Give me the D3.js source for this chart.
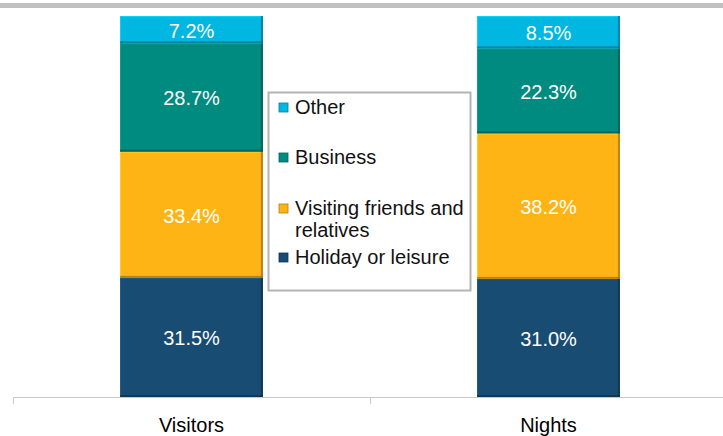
<!DOCTYPE html>
<html>
<head>
<meta charset="utf-8">
<script src="https://cdn.jsdelivr.net/npm/d3@7"></script>
<style>
  body { margin: 0; background: #fff; }
  svg { display: block; font-family: "Liberation Sans", Arial, sans-serif; }
</style>
</head>
<body>
<svg width="723" height="436"></svg>
<script>
var categories = ["Visitors", "Nights"];
var seriesNames = ["Holiday or leisure", "Visiting friends and relatives", "Business", "Other"];
var holiday = [31.5, 31.0];
var visiting = [33.4, 38.2];
var business = [28.7, 22.3];
var other = [7.2, 8.5];

var colors = {
  "Holiday or leisure": "#184c72",
  "Visiting friends and relatives": "#fdb414",
  "Business": "#008b80",
  "Other": "#00b7e2"
};

// build rows for the stack
var rows = categories.map(function(c, i) {
  return {
    cat: c,
    "Holiday or leisure": holiday[i],
    "Visiting friends and relatives": visiting[i],
    "Business": business[i],
    "Other": other[i]
  };
});

var svg = d3.select("svg");

// grey rule at the very top
svg.append("rect")
  .attr("x", 0).attr("y", 3)
  .attr("width", 723).attr("height", 5)
  .attr("fill", "#c0c0c0");

var x = d3.scaleBand()
  .domain(categories)
  .range([13, 727])
  .paddingInner(0.6)
  .paddingOuter(0.3);

var y = d3.scaleLinear().domain([0, 1]).range([397, 16]);

var stack = d3.stack().keys(seriesNames).offset(d3.stackOffsetExpand);
var series = stack(rows);

var groups = svg.append("g").selectAll("g")
  .data(series)
  .join("g");

groups.each(function(s) {
  var g = d3.select(this);
  var base = colors[s.key];
  var dark = d3.color(base).darker(1.2);
  var light = d3.color(base).brighter(0.6);
  s.forEach(function(d) {
    var x0 = x(d.data.cat), w = x.bandwidth();
    var y0 = y(d[1]), y1 = y(d[0]);
    g.append("rect")
      .attr("x", x0).attr("y", y0)
      .attr("width", w).attr("height", y1 - y0)
      .attr("fill", base);
    // bevel edges
    g.append("rect")
      .attr("x", x0).attr("y", y0)
      .attr("width", w).attr("height", 1)
      .attr("fill", light).attr("opacity", 0.7);
    g.append("rect")
      .attr("x", x0).attr("y", y0)
      .attr("width", 1).attr("height", y1 - y0)
      .attr("fill", light).attr("opacity", 0.5);
    g.append("rect")
      .attr("x", x0 + w - 2).attr("y", y0)
      .attr("width", 2).attr("height", y1 - y0)
      .attr("fill", dark).attr("opacity", 0.8);
    g.append("rect")
      .attr("x", x0).attr("y", y1 - 2)
      .attr("width", w).attr("height", 2)
      .attr("fill", dark).attr("opacity", 0.8);
    g.append("text")
      .attr("x", x0 + w / 2)
      .attr("y", (y0 + y1) / 2 + 1)
      .attr("text-anchor", "middle")
      .attr("dominant-baseline", "central")
      .attr("fill", "#fff")
      .attr("font-size", 20)
      .text(d.data[s.key].toFixed(1) + "%");
  });
});

// category axis
var axis = svg.append("g");
axis.append("line")
  .attr("x1", 13).attr("x2", 727)
  .attr("y1", 397.5).attr("y2", 397.5)
  .attr("stroke", "#c8c8c8");
var bounds = [13, 13 + x.step(), 13 + 2 * x.step()];
axis.selectAll("line.tick")
  .data(bounds)
  .join("line")
  .attr("class", "tick")
  .attr("x1", function(d) { return Math.round(d) + 0.5; })
  .attr("x2", function(d) { return Math.round(d) + 0.5; })
  .attr("y1", 397).attr("y2", 404)
  .attr("stroke", "#c8c8c8");
axis.selectAll("text")
  .data(categories)
  .join("text")
  .attr("x", function(d) { return x(d) + x.bandwidth() / 2; })
  .attr("y", 432)
  .attr("text-anchor", "middle")
  .attr("font-size", 20)
  .attr("fill", "#000")
  .text(function(d) { return d; });

// legend
var legend = svg.append("g");
legend.append("rect")
  .attr("x", 268.5).attr("y", 92.5)
  .attr("width", 202).attr("height", 198)
  .attr("fill", "#fff")
  .attr("stroke", "#b4b4b4")
  .attr("stroke-width", 2);

var legendItems = [
  { key: "Other", lines: ["Other"], y: 114 },
  { key: "Business", lines: ["Business"], y: 164 },
  { key: "Visiting friends and relatives", lines: ["Visiting friends and", "relatives"], y: 215 },
  { key: "Holiday or leisure", lines: ["Holiday or leisure"], y: 264 }
];

legendItems.forEach(function(it) {
  var base = colors[it.key];
  legend.append("rect")
    .attr("x", 279).attr("y", it.y - 11)
    .attr("width", 9).attr("height", 9)
    .attr("fill", base)
    .attr("stroke", d3.color(base).darker(1))
    .attr("stroke-width", 0.8);
  var t = legend.append("text")
    .attr("x", 295).attr("y", it.y)
    .attr("font-size", 20)
    .attr("fill", "#111");
  it.lines.forEach(function(l, i) {
    t.append("tspan")
      .attr("x", 295)
      .attr("dy", i === 0 ? 0 : 22)
      .text(l);
  });
});
</script>
</body>
</html>
